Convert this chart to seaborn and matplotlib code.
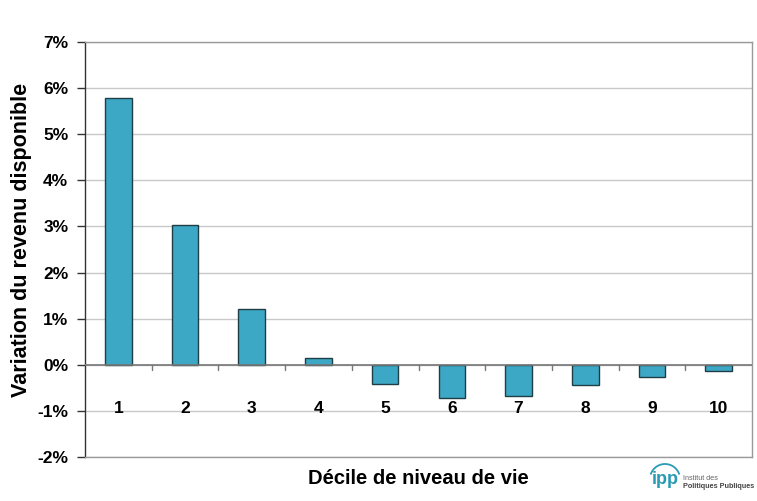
import matplotlib
matplotlib.use("Agg")
import matplotlib.pyplot as plt
from matplotlib.patches import Arc
import seaborn as sns
import pandas as pd

deciles = ["1", "2", "3", "4", "5", "6", "7", "8", "9", "10"]
variation = [5.78, 3.04, 1.22, 0.15, -0.41, -0.72, -0.67, -0.44, -0.26, -0.14]
y_ticks = [-2, -1, 0, 1, 2, 3, 4, 5, 6, 7]
y_ticklabels = [f"{v}%" for v in y_ticks]

sns.set_theme(style="white")
plt.rcParams['font.family'] = ['Liberation Sans', 'DejaVu Sans']

df = pd.DataFrame({"decile": deciles, "variation": variation})

fig = plt.figure(figsize=(7.57, 5.01), dpi=100)
ax = fig.add_axes([85/757, 1-457/501, (752-85)/757, (457-42)/501])

sns.barplot(data=df, x="decile", y="variation", color="#3DA8C6", width=0.4,
            edgecolor="#1f3d44", linewidth=1.0, saturation=1, ax=ax, zorder=3)

ax.set_ylim(-2, 7)
ax.set_xlim(-0.5, len(deciles) - 0.5)
ax.set_yticks(y_ticks)
ax.set_yticklabels(y_ticklabels, fontsize=12.5, fontweight="bold", color="black")
ax.yaxis.grid(True, color="#c8c8c8", linewidth=1, zorder=0)
ax.set_axisbelow(True)
ax.tick_params(axis="y", left=True, length=6, width=1, color="#333333", pad=6)
ax.set_xticks([])
ax.set_xlabel("Décile de niveau de vie", fontsize=14.5, fontweight="bold", labelpad=9, color="black")
ax.set_ylabel("Variation du revenu disponible", fontsize=15.5, fontweight="bold", color="black")
ax.yaxis.set_label_coords(-0.0795, 0.523)

for s in ["top", "right", "bottom"]:
    ax.spines[s].set_color("#9a9a9a")
    ax.spines[s].set_linewidth(1)
ax.spines["left"].set_color("#333333")
ax.spines["left"].set_linewidth(1)

# zero line with boundary ticks
ax.axhline(0, color="#777777", linewidth=1.2, zorder=4)
for i in range(1, len(deciles)):
    ax.plot([i - 0.5, i - 0.5], [0, -0.12], color="#777777", linewidth=1, zorder=4)

# category labels under zero line
for i, lab in enumerate(deciles):
    ax.text(i, -0.95, lab, ha="center", va="center", fontsize=12.5, fontweight="bold", color="black", zorder=5)

# logo
fig.text(665/757, 1-479/501, "ipp", fontsize=13, color="#2a9bb5", ha="center", va="center",
         fontweight="bold")
arc = Arc((665/757, 1-479/501), 30/757, 30/501, theta1=25, theta2=155, color="#2a9bb5",
          linewidth=1.3, transform=fig.transFigure)
fig.add_artist(arc)
fig.text(683/757, 1-478/501, "Institut des", fontsize=5.2, color="#666666", ha="left", va="center")
fig.text(683/757, 1-486/501, "Politiques Publiques", fontsize=5.2, color="#444444", ha="left", va="center",
         fontweight="bold")

fig.savefig("out.png", dpi=100)
